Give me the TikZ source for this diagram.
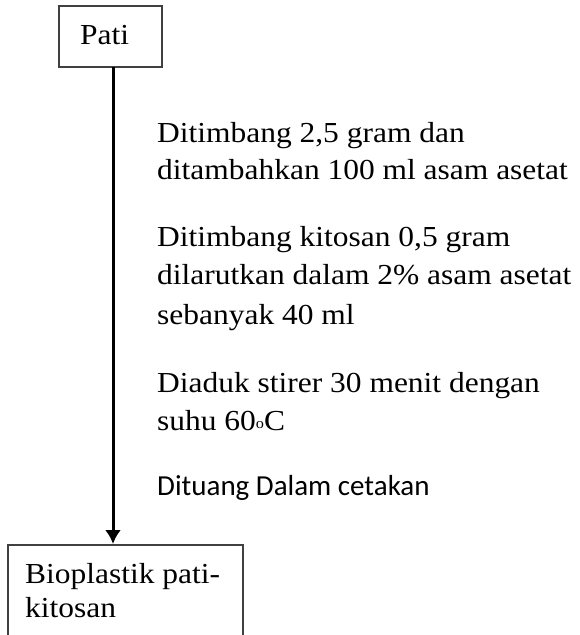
\documentclass[tikz,border=0pt]{standalone}
\usepackage{fontspec}
\setmainfont[FakeStretch=1.085]{Liberation Serif}
\newfontfamily\calfont{Carlito}
\usetikzlibrary{arrows.meta}
\tikzset{
  txt/.style={anchor=base west, inner sep=0pt, font=\fontsize{29}{34}\selectfont},
  sanstxt/.style={anchor=base west, inner sep=0pt, font=\calfont\fontsize{29}{34}\selectfont},
  boxline/.style={draw=black!75, line width=1.4pt},
  flow/.style={line width=3pt, -{Latex[length=14pt,width=16pt]}}
}
\begin{document}
\begin{tikzpicture}[x=1pt,y=1pt]
\useasboundingbox (0,0) rectangle (580,-635);
% boxes
\draw[boxline] (59,-6) rectangle (162,-67);
\coordinate (patitop) at (113,-67);
\node[txt] (pati) at (80,-44) {Pati};
\draw[boxline] (243,-660) -- (243,-545) -- (8,-545) -- (8,-660);
\coordinate (biotop) at (113,-544);
\node[txt] (bio1) at (25,-583) {Bioplastik pati-};
\node[txt] (bio2) at (25,-617) {kitosan};
\draw[flow] (patitop) -- (biotop);
% steps
\node[txt] (s1) at (157,-142) {Ditimbang 2,5 gram dan};
\node[txt] (s2) at (157,-179) {ditambahkan 100 ml asam asetat};
\node[txt] (s3) at (157,-246) {Ditimbang kitosan 0,5 gram};
\node[txt] (s4) at (157,-284) {dilarutkan dalam 2\% asam asetat};
\node[txt] (s5) at (157,-324) {sebanyak 40 ml};
\node[txt] (s6) at (157,-392) {Diaduk stirer 30 menit dengan};
\node[txt] (s7) at (157,-430) {suhu 60\raisebox{1.5pt}{\fontsize{15}{15}\selectfont o}C};
\node[sanstxt] (s8) at (157,-495) {Dituang Dalam cetakan};
\end{tikzpicture}
\end{document}
